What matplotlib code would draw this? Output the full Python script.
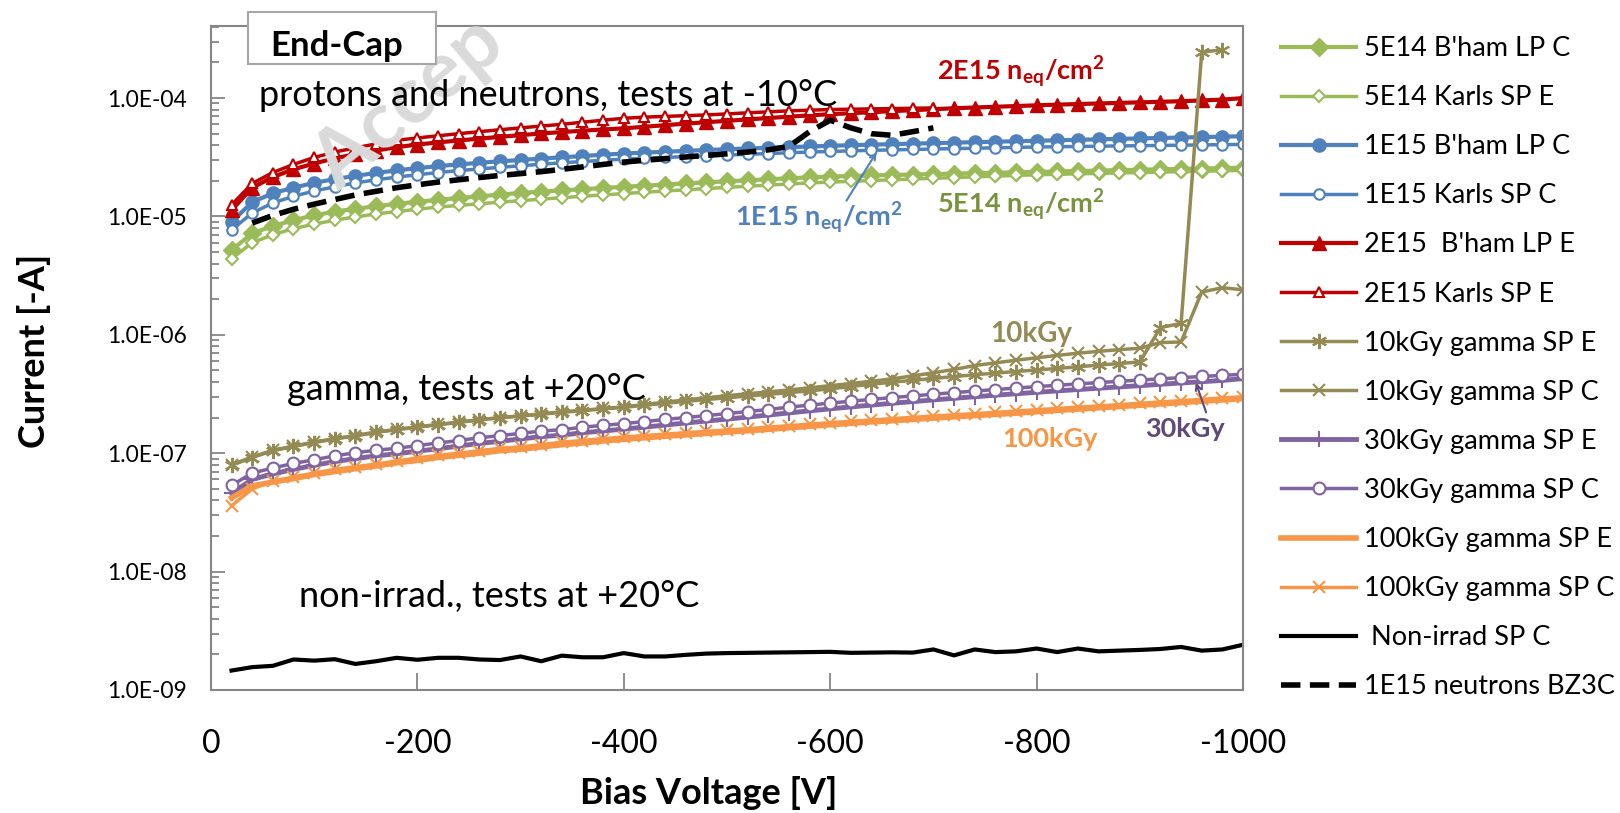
import numpy as np
import matplotlib.pyplot as plt
from matplotlib.ticker import FixedLocator, LogLocator, FuncFormatter, NullFormatter
from matplotlib.patches import Rectangle

plt.rcParams['font.family'] = ['Lato', 'DejaVu Sans']
plt.rcParams['mathtext.fontset'] = 'custom'
plt.rcParams['mathtext.rm'] = 'Lato'
plt.rcParams['mathtext.bf'] = 'Lato:bold'
plt.rcParams['mathtext.it'] = 'Lato:italic'
plt.rcParams['axes.unicode_minus'] = False

# bias voltage grid [V]
bias = [-20, -40, -60, -80, -100, -120, -140, -160, -180, -200,
        -220, -240, -260, -280, -300, -320, -340, -360, -380, -400,
        -420, -440, -460, -480, -500, -520, -540, -560, -580, -600,
        -620, -640, -660, -680, -700, -720, -740, -760, -780, -800,
        -820, -840, -860, -880, -900, -920, -940, -960, -980, -1000]

# currents, protons / neutrons (x 1e-5 A)
green_bham = [0.52, 0.72, 0.83, 0.93, 1.02, 1.10, 1.16, 1.22, 1.28, 1.33,
              1.38, 1.43, 1.48, 1.53, 1.58, 1.62, 1.66, 1.70, 1.74, 1.78,
              1.82, 1.86, 1.90, 1.94, 1.98, 2.02, 2.06, 2.10, 2.14, 2.17,
              2.20, 2.22, 2.24, 2.26, 2.28, 2.30, 2.32, 2.34, 2.36, 2.38,
              2.40, 2.42, 2.44, 2.46, 2.48, 2.50, 2.52, 2.54, 2.56, 2.58]
green_karls = [0.44, 0.60, 0.70, 0.79, 0.86, 0.93, 0.99, 1.05, 1.10, 1.15,
               1.20, 1.24, 1.28, 1.32, 1.36, 1.40, 1.44, 1.48, 1.52, 1.56,
               1.60, 1.64, 1.68, 1.72, 1.76, 1.80, 1.84, 1.88, 1.92, 1.95,
               1.98, 2.01, 2.04, 2.07, 2.10, 2.13, 2.16, 2.19, 2.22, 2.25,
               2.27, 2.29, 2.31, 2.33, 2.35, 2.37, 2.39, 2.41, 2.43, 2.45]
blue_bham = [0.90, 1.32, 1.57, 1.75, 1.92, 2.07, 2.20, 2.33, 2.45, 2.56,
             2.66, 2.75, 2.84, 2.92, 3.00, 3.08, 3.16, 3.24, 3.32, 3.40,
             3.46, 3.52, 3.58, 3.64, 3.70, 3.75, 3.80, 3.85, 3.90, 3.95,
             4.00, 4.04, 4.08, 4.12, 4.16, 4.20, 4.24, 4.28, 4.32, 4.36,
             4.40, 4.44, 4.48, 4.52, 4.56, 4.60, 4.64, 4.68, 4.72, 4.76]
blue_karls = [0.77, 1.07, 1.30, 1.48, 1.64, 1.78, 1.92, 2.04, 2.15, 2.25,
              2.35, 2.44, 2.52, 2.60, 2.68, 2.76, 2.84, 2.91, 2.98, 3.05,
              3.10, 3.15, 3.20, 3.25, 3.30, 3.35, 3.40, 3.45, 3.50, 3.54,
              3.58, 3.62, 3.65, 3.68, 3.71, 3.74, 3.77, 3.80, 3.83, 3.86,
              3.88, 3.90, 3.92, 3.94, 3.96, 3.98, 4.00, 4.02, 4.04, 4.06]
red_bham = [1.13, 1.75, 2.15, 2.50, 2.80, 3.10, 3.35, 3.60, 3.85, 4.05,
            4.22, 4.38, 4.54, 4.70, 4.86, 5.02, 5.16, 5.30, 5.43, 5.55,
            5.72, 5.90, 6.08, 6.25, 6.42, 6.60, 6.78, 6.96, 7.14, 7.30,
            7.45, 7.60, 7.75, 7.90, 8.05, 8.20, 8.32, 8.44, 8.56, 8.68,
            8.80, 8.90, 9.00, 9.10, 9.20, 9.30, 9.40, 9.55, 9.70, 10.0]
# -20 .. -700 V
red_karls = [1.25, 1.90, 2.35, 2.75, 3.15, 3.50, 3.80, 4.10, 4.40, 4.60,
             4.80, 5.00, 5.20, 5.40, 5.60, 5.80, 6.00, 6.25, 6.50, 6.75,
             6.90, 7.00, 7.10, 7.20, 7.35, 7.50, 7.65, 7.80, 7.90, 8.00,
             8.05, 8.10, 8.15, 8.20, 8.25]
# -40 .. -700 V
neutron_bz3c = [0.88, 1.02, 1.15, 1.27, 1.39, 1.52, 1.63, 1.75, 1.85,
                1.95, 2.04, 2.13, 2.22, 2.30, 2.39, 2.50, 2.62, 2.75, 2.88,
                2.98, 3.08, 3.18, 3.28, 3.38, 3.50, 3.65, 3.90, 5.20, 6.50,
                5.60, 5.00, 4.85, 5.20, 5.60]

# currents, gamma (x 1e-7 A)
# -20 .. -980 V
g10_e = [0.79, 0.92, 1.05, 1.14, 1.23, 1.32, 1.40, 1.50, 1.58, 1.66,
         1.74, 1.82, 1.91, 1.99, 2.06, 2.13, 2.22, 2.28, 2.37, 2.44,
         2.54, 2.64, 2.74, 2.84, 2.94, 3.04, 3.14, 3.25, 3.36, 3.50,
         3.66, 3.83, 3.98, 4.13, 4.28, 4.44, 4.60, 4.75, 4.90, 5.05,
         5.20, 5.37, 5.55, 5.72, 5.90, 11.5, 12.5, 2450, 2550]
g10_c = [0.80, 0.93, 1.06, 1.15, 1.24, 1.33, 1.41, 1.51, 1.59, 1.67,
         1.75, 1.83, 1.92, 2.00, 2.07, 2.15, 2.24, 2.30, 2.39, 2.46,
         2.58, 2.70, 2.82, 2.94, 3.06, 3.18, 3.30, 3.42, 3.57, 3.72,
         3.88, 4.05, 4.25, 4.50, 4.78, 5.10, 5.50, 5.80, 6.10, 6.40,
         6.70, 7.00, 7.25, 7.50, 7.70, 8.60, 8.70, 23.0, 25.0, 24.0]
g30_e = [0.46, 0.60, 0.67, 0.73, 0.79, 0.85, 0.90, 0.95, 0.99, 1.04,
         1.09, 1.15, 1.21, 1.26, 1.32, 1.38, 1.42, 1.49, 1.54, 1.60,
         1.66, 1.73, 1.80, 1.87, 1.94, 2.02, 2.10, 2.19, 2.28, 2.37,
         2.46, 2.55, 2.64, 2.73, 2.82, 2.91, 3.00, 3.09, 3.18, 3.27,
         3.36, 3.45, 3.54, 3.63, 3.72, 3.82, 3.92, 4.02, 4.12, 4.27]
g30_c = [0.535, 0.68, 0.75, 0.82, 0.88, 0.95, 1.01, 1.06, 1.10, 1.16,
         1.22, 1.28, 1.35, 1.41, 1.47, 1.54, 1.58, 1.66, 1.72, 1.78,
         1.85, 1.93, 2.00, 2.08, 2.16, 2.25, 2.34, 2.45, 2.55, 2.65,
         2.75, 2.85, 2.95, 3.05, 3.15, 3.25, 3.35, 3.45, 3.55, 3.65,
         3.75, 3.85, 3.95, 4.05, 4.15, 4.25, 4.35, 4.45, 4.55, 4.64]
g100_e = [0.42, 0.53, 0.57, 0.61, 0.66, 0.70, 0.74, 0.78, 0.83, 0.87,
          0.92, 0.96, 1.00, 1.05, 1.08, 1.13, 1.18, 1.22, 1.27, 1.31,
          1.35, 1.39, 1.43, 1.47, 1.51, 1.55, 1.59, 1.64, 1.69, 1.74,
          1.79, 1.84, 1.88, 1.93, 1.98, 2.03, 2.08, 2.13, 2.18, 2.24,
          2.30, 2.36, 2.42, 2.48, 2.54, 2.61, 2.68, 2.75, 2.82, 2.90]
g100_c = [0.36, 0.50, 0.58, 0.63, 0.68, 0.73, 0.77, 0.81, 0.86, 0.91,
          0.96, 1.00, 1.05, 1.10, 1.13, 1.18, 1.24, 1.28, 1.33, 1.37,
          1.41, 1.45, 1.49, 1.53, 1.57, 1.61, 1.66, 1.71, 1.76, 1.81,
          1.86, 1.91, 1.96, 2.01, 2.06, 2.11, 2.16, 2.21, 2.27, 2.33,
          2.39, 2.45, 2.51, 2.57, 2.64, 2.71, 2.78, 2.85, 2.93, 3.00]

# non irradiated (x 1e-9 A)
nonirrad = [1.46, 1.56, 1.60, 1.81, 1.77, 1.82, 1.66, 1.75, 1.87, 1.80,
            1.87, 1.87, 1.81, 1.79, 1.92, 1.75, 1.95, 1.89, 1.89, 2.05,
            1.92, 1.92, 1.98, 2.03, 2.05, 2.06, 2.07, 2.08, 2.09, 2.10,
            2.06, 2.07, 2.08, 2.07, 2.20, 1.96, 2.20, 2.09, 2.12, 2.24,
            2.09, 2.24, 2.12, 2.15, 2.18, 2.22, 2.31, 2.15, 2.20, 2.41]

ytick_vals = [1e-9, 1e-8, 1e-7, 1e-6, 1e-5, 1e-4]
xtick_vals = [0, -200, -400, -600, -800, -1000]

GREEN = '#9BBB59'
BLUE = '#4F81BD'
RED = '#C00000'
OLIVE = '#948A54'
PURPLE = '#8064A2'
ORANGE = '#F79646'

e5 = lambda v: np.array(v) * 1e-5
e7 = lambda v: np.array(v) * 1e-7

fig = plt.figure(figsize=(16.2, 8.13), dpi=100)
ax = fig.add_axes([0.1302, 0.1513, 0.6371, 0.8167])
ax.set_facecolor('none')

def fpos(x, y):
    return x / 1620, 1 - y / 813

# watermark
fig.text(*fpos(338, 192), "Accep", rotation=40, fontsize=58, fontweight='bold',
         color='#dadada', zorder=0, ha='left', va='baseline', rotation_mode='anchor')

ax.plot(bias, e5(green_bham), color=GREEN, lw=3, marker='D', ms=9, label="5E14 B'ham LP C")
ax.plot(bias, e5(green_karls), color=GREEN, lw=2.5, marker='D', ms=6.5, mfc='white', mew=1.5,
        label="5E14 Karls SP E")
ax.plot(bias, e5(blue_bham), color=BLUE, lw=3, marker='o', ms=9.5, label="1E15 B'ham LP C")
ax.plot(bias, e5(blue_karls), color=BLUE, lw=2.5, marker='o', ms=7.5, mfc='white', mew=1.5,
        label="1E15 Karls SP C")
ax.plot(bias, e5(red_bham), color=RED, lw=3, marker='^', ms=10, label="2E15  B'ham LP E")
ax.plot(bias[:35], e5(red_karls), color=RED, lw=2.5, marker='^', ms=7.5, mfc='white', mew=1.5,
        label="2E15 Karls SP E")
ax.plot(bias[:49], e7(g10_e), color=OLIVE, lw=2.5, marker=(6, 2, 0), ms=11, mew=1.5,
        label="10kGy gamma SP E")
ax.plot(bias, e7(g10_c), color=OLIVE, lw=2.5, marker='x', ms=9, mew=1.5, label="10kGy gamma SP C")
ax.plot(bias, e7(g30_e), color=PURPLE, lw=3.5, marker='+', ms=11, mew=1.5, label="30kGy gamma SP E")
ax.plot(bias, e7(g30_c), color=PURPLE, lw=2.5, marker='o', ms=8.5, mfc='white', mew=1.5,
        label="30kGy gamma SP C")
ax.plot(bias, e7(g100_e), color=ORANGE, lw=4, label="100kGy gamma SP E")
ax.plot(bias, e7(g100_c), color=ORANGE, lw=2.5, marker='x', ms=9, mew=1.5, label="100kGy gamma SP C")
ax.plot(bias, np.array(nonirrad) * 1e-9, color='black', lw=3, label=" Non-irrad SP C")
ax.plot(bias[1:35], e5(neutron_bz3c), color='black', lw=4, dashes=(3.5, 1.7),
        label="1E15 neutrons BZ3C")

ax.set_yscale('log')
ax.set_ylim(1e-9, 4.06e-4)
ax.set_xlim(0, -1000)
ax.yaxis.set_major_locator(FixedLocator(ytick_vals))
ax.yaxis.set_minor_locator(LogLocator(base=10, subs=np.arange(2, 10)))
ax.yaxis.set_minor_formatter(NullFormatter())
ax.yaxis.set_major_formatter(FuncFormatter(lambda v, _: f"{v:.1E}"))
ax.xaxis.set_major_locator(FixedLocator(xtick_vals))

for s in ax.spines.values():
    s.set_color('#868686')
    s.set_linewidth(1.5)
ax.tick_params(axis='y', which='major', direction='in', length=10, width=1.3, color='#868686',
               labelsize=16.5, pad=17)
ax.tick_params(axis='y', which='minor', direction='in', length=6, width=1.3, color='#868686')
ax.tick_params(axis='x', direction='in', length=12, width=1.3, color='#868686', labelsize=23, pad=28)

ax.set_ylabel("Current [-A]", fontsize=26, fontweight='bold', va='center')
ax.yaxis.set_label_coords(-0.1715, 0.51)
ax.set_xlabel("Bias Voltage [V]", fontsize=26, fontweight='bold', va='center')
ax.xaxis.set_label_coords(0.4826, -0.155)

# annotations
fig.patches.append(Rectangle(fpos(248, 64), 188 / 1620, 52 / 813, transform=fig.transFigure,
                             fill=True, facecolor='white', edgecolor='#a6a6a6', lw=1.5, zorder=3))
fig.text(*fpos(270, 46), "End-Cap", fontsize=25, fontweight='bold', va='center', zorder=4)
fig.text(*fpos(259, 96), "protons and neutrons, tests at -10°C", fontsize=26, va='center')
fig.text(*fpos(287, 390), "gamma, tests at +20°C", fontsize=26, va='center')
fig.text(*fpos(299, 596), "non-irrad., tests at +20°C", fontsize=26, va='center')

fig.text(*fpos(937, 72), r"$\mathbf{2E15\ n_{eq}/cm^2}$", fontsize=19.5, color=RED, va='center')
fig.text(*fpos(735, 218), r"$\mathbf{1E15\ n_{eq}/cm^2}$", fontsize=19.5, color=BLUE, va='center')
fig.text(*fpos(937, 205), r"$\mathbf{5E14\ n_{eq}/cm^2}$", fontsize=19.5, color='#77933C', va='center')
fig.text(*fpos(990, 334), "10kGy", fontsize=20, fontweight='bold', color=OLIVE, va='center')
fig.text(*fpos(1002, 439), "100kGy", fontsize=19.5, fontweight='bold', color=ORANGE, va='center')
fig.text(*fpos(1145, 429), "30kGy", fontsize=19.5, fontweight='bold', color='#5F497A', va='center')

ax.annotate('', xy=(878, 813 - 150), xycoords='figure pixels', xytext=(845, 813 - 203),
            textcoords='figure pixels',
            arrowprops=dict(arrowstyle='->', color=BLUE, lw=1.5))
ax.annotate('', xy=(1195, 813 - 380), xycoords='figure pixels', xytext=(1207, 813 - 415),
            textcoords='figure pixels',
            arrowprops=dict(arrowstyle='->', color='#5F497A', lw=1.5))

fig.legend(loc='upper left', bbox_to_anchor=(1281 / 1620, 1 - 36 / 813), frameon=False,
           fontsize=19.5, handlelength=2.77, handletextpad=0.3, labelspacing=0.89,
           borderpad=0, borderaxespad=0)

fig.savefig('out.png', dpi=100)
